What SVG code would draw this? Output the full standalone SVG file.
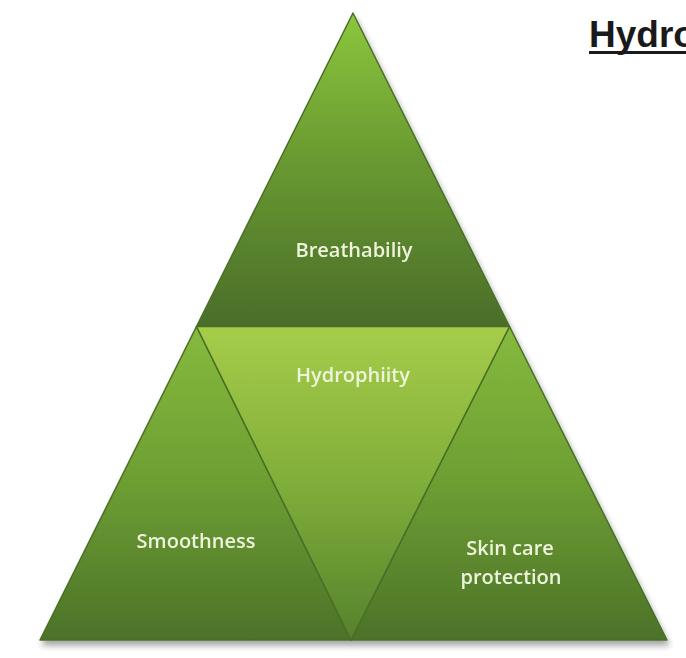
<svg xmlns="http://www.w3.org/2000/svg" width="686" height="658" viewBox="0 0 686 658">
<defs>
<linearGradient id="gTop" x1="0" y1="0" x2="0" y2="1" gradientUnits="objectBoundingBox">
<stop offset="0" stop-color="#8cc63e"/>
<stop offset="0.45" stop-color="#6a9b31"/>
<stop offset="1" stop-color="#4a6d2a"/>
</linearGradient>
<linearGradient id="gMid" x1="0" y1="0" x2="0" y2="1">
<stop offset="0" stop-color="#a6cd4a"/>
<stop offset="0.5" stop-color="#80ae3a"/>
<stop offset="1" stop-color="#55822c"/>
</linearGradient>
<linearGradient id="gSide" x1="0" y1="0" x2="0" y2="1">
<stop offset="0" stop-color="#86ba3d"/>
<stop offset="0.5" stop-color="#6d9e33"/>
<stop offset="1" stop-color="#4c7229"/>
</linearGradient>
<filter id="sh" x="-10%" y="-10%" width="120%" height="130%">
<feGaussianBlur in="SourceAlpha" stdDeviation="3"/>
<feOffset dx="2" dy="5"/>
<feComponentTransfer><feFuncA type="linear" slope="0.35"/></feComponentTransfer>
<feMerge><feMergeNode/><feMergeNode in="SourceGraphic"/></feMerge>
</filter>
</defs>
<style>
.lbl{font-family:"Open Sans","Liberation Sans",sans-serif;font-size:20px;font-weight:600;fill:#eef4dc;text-anchor:middle;}
.edge{stroke:#4a6e27;stroke-width:1.5;stroke-linejoin:round;}
</style>
<rect width="686" height="658" fill="#ffffff"/>
<g id="pyramid" filter="url(#sh)">
<g id="breathability">
<polygon class="edge" points="353,13 196.5,326.5 509.5,326.5" fill="url(#gTop)"/>
<text class="lbl" x="354" y="257">Breathabiliy</text>
</g>
<g id="smoothness">
<polygon class="edge" points="196.5,326.5 40,640 351,640" fill="url(#gSide)"/>
<text class="lbl" x="196" y="548">Smoothness</text>
</g>
<g id="skincare">
<polygon class="edge" points="509.5,326.5 351,640 667,640" fill="url(#gSide)"/>
<text class="lbl" x="510" y="555">Skin care</text>
<text class="lbl" x="511" y="584">protection</text>
</g>
<g id="hydrophilicity">
<polygon class="edge" points="196.5,326.5 509.5,326.5 351,640" fill="url(#gMid)"/>
<text class="lbl" x="353" y="382">Hydrophiity</text>
</g>
</g>
<g id="title">
<text x="589" y="47" font-family="'Liberation Sans',Arial,sans-serif" font-weight="bold" font-size="37" fill="#1a1a1a">Hydro</text>
<rect x="589" y="51" width="100" height="3" fill="#1a1a1a"/>
</g>
</svg>
